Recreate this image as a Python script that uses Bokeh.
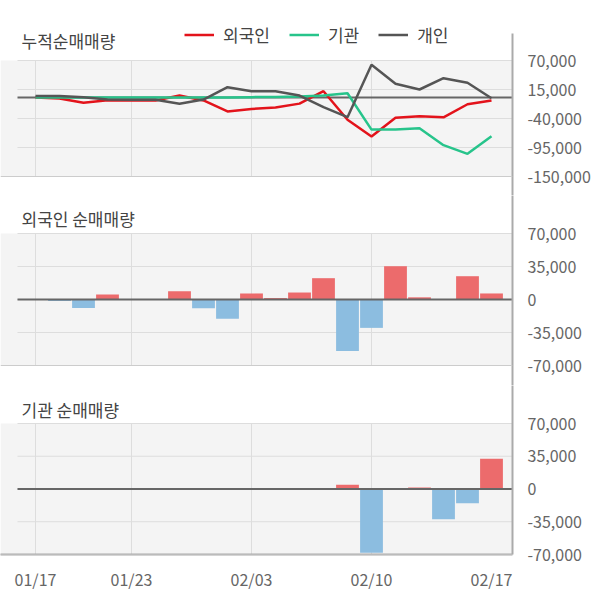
from bokeh.plotting import figure
from bokeh.layouts import column
from bokeh.models import (FixedTicker, NumeralTickFormatter, BoxAnnotation, Span,
                          Label, Legend, LegendItem, Range1d)
from bokeh.embed import file_html
from bokeh.resources import INLINE

# ---------------- data ----------------
dates = ["01/17", "01/20", "01/21", "01/22", "01/23", "01/28", "01/29", "01/30",
         "01/31", "02/03", "02/04", "02/05", "02/06", "02/07", "02/10", "02/11",
         "02/12", "02/13", "02/14", "02/17"]
foreign_net = [0, -1500, -8900, 5300, 0, 0, 8800, -9200, -20500, 6400,
               1500, 7400, 22600, -54500, -30100, 35300, 2300, 0, 24700, 6400]
inst_net = [0, 0, 0, 0, 0, 0, 0, 0, 0, 0,
            0, 0, 0, 4600, -68000, 0, 1500, -32200, -15200, 32200]
foreign_cum = [0, -2000, -10300, -5500, -5700, -5700, 3600, -5700, -26500, -21800,
               -19200, -11800, 11800, -42500, -74000, -38700, -35600, -37800, -13000, -5900]
inst_cum = [0, 0, 0, 0, 0, 0, 0, 0, 0, 500,
            1000, 1500, 3600, 8000, -61000, -61000, -58400, -90600, -107000, -73600]
indiv_cum = [2500, 2500, 500, -4000, -4600, -4600, -12200, -4000, 19400, 11800,
             11800, 3600, -18500, -37500, 61800, 25800, 15000, 36400, 27700, -1500]
cum_ticks = [70000, 15000, -40000, -95000, -150000]
net_ticks = [70000, 35000, 0, -35000, -70000]
label_idx = [0, 4, 9, 14, 19]
grid_idx = [0, 4, 9, 14]
series_names = ["외국인", "기관", "개인"]
titles = ["누적순매매량", "외국인 순매매량", "기관 순매매량"]

# ---------------- style ----------------
FONT = "Noto Sans CJK KR"
RED_LINE, GREEN_LINE, GRAY_LINE = "#e3131b", "#27c48b", "#555555"
BAR_POS, BAR_NEG = "#ec6b6c", "#8cbde0"
BG = "#f4f4f4"
GRID = "#dddddd"
AXIS = "#aaaaaa"
TICK_TXT = "#666666"
TITLE_TXT = "#444444"

x = list(range(len(dates)))
STEP = 24.0
X0PX = 35.0
FRAME_R = 512.0
XR = Range1d(-X0PX / STEP, (FRAME_R - X0PX) / STEP)
GRID_LEFT = (17 - X0PX) / STEP


def yscale(v_top, y_top, v_bot, y_bot):
    k = (v_top - v_bot) / (y_bot - y_top)
    return lambda ypx: v_top - (ypx - y_top) * k


def make_fig(h, f, frame_top, frame_bot, bt, bb, ticks, show_x, axis_top=None):
    yr = Range1d(f(frame_bot), f(frame_top))
    p = figure(width=600, height=h, x_range=XR, y_range=yr, output_backend="svg",
               toolbar_location=None, y_axis_location="right",
               x_axis_location="below" if show_x else None,
               min_border_left=0, min_border_right=88, min_border_top=bt,
               min_border_bottom=bb, background_fill_color="white",
               border_fill_color="white", outline_line_color=None)
    p.xgrid.visible = False
    p.ygrid.visible = False
    top, bot = max(ticks), min(ticks)
    p.add_layout(BoxAnnotation(top=top, bottom=bot, fill_color=BG, fill_alpha=1,
                               line_alpha=0, level="underlay"))
    p.segment(x0=[GRID_LEFT] * len(ticks), x1=[XR.end] * len(ticks), y0=ticks, y1=ticks,
              line_color=GRID, line_width=1)
    p.segment(x0=grid_idx, x1=grid_idx, y0=[bot] * len(grid_idx), y1=[top] * len(grid_idx),
              line_color=GRID, line_width=1)
    p.add_layout(Span(location=bot, dimension="width", line_color="#cccccc", line_width=1))
    ax = p.yaxis[0]
    ax.ticker = FixedTicker(ticks=ticks)
    ax.formatter = NumeralTickFormatter(format="0,0")
    ax.axis_line_color = AXIS
    ax.axis_line_width = 2
    ax.major_tick_line_color = None
    ax.minor_tick_line_color = None
    ax.major_label_standoff = 9
    ax.major_label_text_font = FONT
    ax.major_label_text_font_size = "16px"
    ax.major_label_text_color = TICK_TXT
    if axis_top is not None:
        ax.bounds = (yr.start, f(axis_top))
    if show_x:
        xa = p.xaxis[0]
        xa.ticker = FixedTicker(ticks=label_idx)
        xa.major_label_overrides = {i: dates[i] for i in label_idx}
        xa.axis_line_color = AXIS
        xa.axis_line_width = 2
        xa.major_tick_line_color = None
        xa.minor_tick_line_color = None
        xa.major_label_standoff = 6
        xa.major_label_text_font = FONT
        xa.major_label_text_font_size = "16px"
        xa.major_label_text_color = TICK_TXT
    return p


def add_title(p, text, y):
    p.add_layout(Label(x=21, y=y, x_units="screen", y_units="screen", text=text,
                       text_font=FONT, text_font_size="17px", text_color=TITLE_TXT,
                       text_baseline="middle"))


def zero_line(p):
    p.segment(x0=[GRID_LEFT], x1=[XR.end], y0=[0], y1=[0], line_color="#666666", line_width=2)


# ---------- panel 1: cumulative ----------
f1 = yscale(70000, 60, -150000, 176)
p1 = make_fig(195, f1, 0, 195, 0, 0, cum_ticks, False, axis_top=33)
zero_line(p1)
r1 = p1.line(x, foreign_cum, line_color=RED_LINE, line_width=2.5)
r2 = p1.line(x, inst_cum, line_color=GREEN_LINE, line_width=2.5)
r3 = p1.line(x, indiv_cum, line_color=GRAY_LINE, line_width=2.5)
add_title(p1, titles[0], 195 - 40)
leg = Legend(items=[LegendItem(label=series_names[0], renderers=[r1]),
                    LegendItem(label=series_names[1], renderers=[r2]),
                    LegendItem(label=series_names[2], renderers=[r3])],
             orientation="horizontal", location=(184, 195 - 46.5),
             glyph_width=30, glyph_height=17, label_height=17, label_standoff=9,
             spacing=19, padding=0, margin=0, border_line_alpha=0,
             background_fill_alpha=0, label_text_font=FONT,
             label_text_font_size="17px", label_text_color=TITLE_TXT)
p1.add_layout(leg)

# ---------- panel 2: foreign net ----------
f2 = yscale(70000, 233, -70000, 365)
p2 = make_fig(190, f2, 195, 385, 0, 0, net_ticks, False)
p2.vbar(x=x, top=foreign_net, width=0.95,
        fill_color=[BAR_POS if v >= 0 else BAR_NEG for v in foreign_net], line_color=None)
zero_line(p2)
add_title(p2, titles[1], 385 - 218)

# ---------- panel 3: institution net ----------
f3 = yscale(70000, 423, -70000, 554)
p3 = make_fig(219, f3, 385, 554, 0, 50, net_ticks, True)
p3.vbar(x=x, top=inst_net, width=0.95,
        fill_color=[BAR_POS if v >= 0 else BAR_NEG for v in inst_net], line_color=None)
zero_line(p3)
add_title(p3, titles[2], 554 - 409)

layout = column(p1, p2, p3)
open("out.html", "w").write(file_html(layout, INLINE))
